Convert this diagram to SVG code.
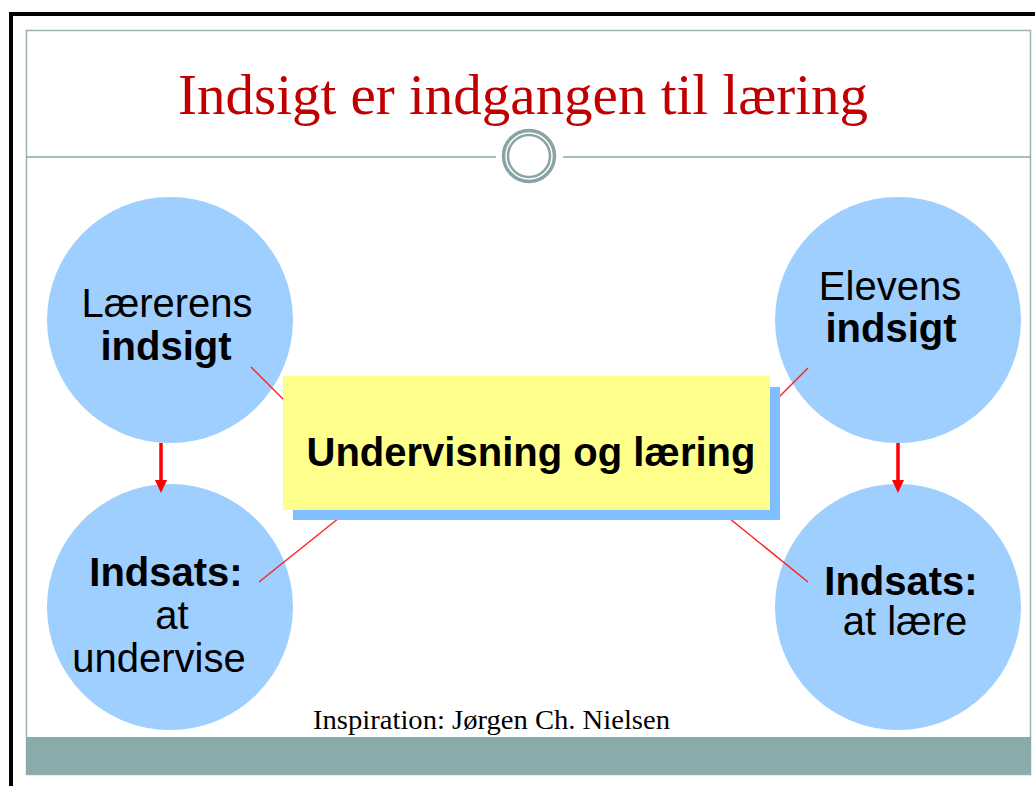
<svg xmlns="http://www.w3.org/2000/svg" width="1035" height="786" viewBox="0 0 1035 786">
<style>
.bubble{fill:#9fcfff}
.sans{font-family:"Liberation Sans",Arial,sans-serif;font-size:40px;fill:#000}
.b{font-weight:bold}
.conn{stroke:#ff2020;stroke-width:1.5;fill:none}
.arr{stroke:#ff0000;stroke-width:3.5;fill:none}
</style>
<defs>
<marker id="head" viewBox="0 0 13 12" refX="0" refY="6" markerWidth="13" markerHeight="12" markerUnits="userSpaceOnUse" orient="auto">
<path d="M0,0 L13,6 L0,12 z" fill="#ff0000"/>
</marker>
</defs>
<rect width="1035" height="786" fill="#ffffff"/>
<g id="frame">
<path d="M11,786 L11,14 L1035,14" fill="none" stroke="#000" stroke-width="4"/>
<rect x="26.5" y="30.5" width="1004" height="744" fill="#fff" stroke="#9ab0b0" stroke-width="1.5"/>
<line x1="26" y1="157" x2="496" y2="157" stroke="#8aa6a6" stroke-width="1.5"/>
<line x1="563" y1="157" x2="1031" y2="157" stroke="#8aa6a6" stroke-width="1.5"/>
<circle cx="529" cy="156" r="25.5" fill="#fff" stroke="#8aa3a3" stroke-width="3.5"/>
<circle cx="529" cy="156" r="21" fill="none" stroke="#8aa3a3" stroke-width="2.5"/>
<rect x="26" y="737" width="1005" height="37" fill="#8aabab"/>
</g>
<g id="title">
<text x="178" y="114" font-family="Liberation Serif,'Times New Roman',serif" font-size="58" fill="#c00000" textLength="690" lengthAdjust="spacingAndGlyphs">Indsigt er indgangen til læring</text>
</g>
<g id="node-laererens">
<circle class="bubble" cx="170" cy="320" r="123"/>
<text class="sans" x="167" y="317" text-anchor="middle">Lærerens</text>
<text class="sans b" x="166" y="360" text-anchor="middle">indsigt</text>
</g>
<g id="node-elevens">
<circle class="bubble" cx="898" cy="320" r="123"/>
<text class="sans" x="890" y="300" text-anchor="middle">Elevens</text>
<text class="sans b" x="891" y="342" text-anchor="middle">indsigt</text>
</g>
<g id="node-indsats-undervise">
<circle class="bubble" cx="170" cy="607" r="123"/>
<text class="sans b" x="166" y="586" text-anchor="middle">Indsats:</text>
<text class="sans" x="172" y="629" text-anchor="middle">at</text>
<text class="sans" x="159" y="672" text-anchor="middle">undervise</text>
</g>
<g id="node-indsats-laere">
<circle class="bubble" cx="898" cy="607" r="123"/>
<text class="sans b" x="901" y="595" text-anchor="middle">Indsats:</text>
<text class="sans" x="905" y="635" text-anchor="middle">at lære</text>
</g>
<g id="connectors">
<line class="conn" x1="251" y1="367" x2="288" y2="404"/>
<line class="conn" x1="344" y1="514" x2="259" y2="582"/>
<line class="conn" x1="808" y1="368" x2="772" y2="404"/>
<line class="conn" x1="724" y1="514" x2="808" y2="582"/>
<line class="arr" x1="161" y1="443" x2="161" y2="480" marker-end="url(#head)"/>
<line class="arr" x1="898" y1="443" x2="898" y2="480" marker-end="url(#head)"/>
</g>
<g id="node-center">
<rect x="293" y="387" width="487" height="133" fill="#80bfff"/>
<rect x="283" y="376" width="487" height="134" fill="#ffff8c"/>
<text class="sans b" x="531" y="466" text-anchor="middle">Undervisning og læring</text>
</g>
<g id="credit">
<text x="313" y="729" font-family="Liberation Serif,'Times New Roman',serif" font-size="27" fill="#000" textLength="357" lengthAdjust="spacingAndGlyphs">Inspiration: Jørgen Ch. Nielsen</text>
</g>
</svg>
